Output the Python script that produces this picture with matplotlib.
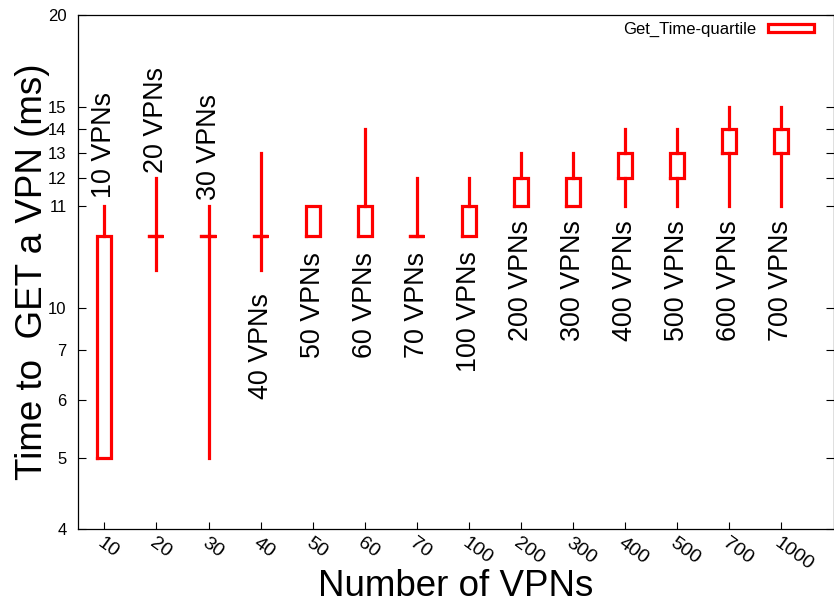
import matplotlib
matplotlib.use("Agg")
import matplotlib.pyplot as plt
from matplotlib.ticker import NullLocator
from matplotlib.patches import Patch

plt.rcParams['font.family'] = ['Liberation Sans', 'DejaVu Sans']

# ---- data ----
x_tick_labels = ['10', '20', '30', '40', '50', '60', '70', '100', '200', '300', '400', '500', '700', '1000']
vpn_labels = ['10 VPNs', '20 VPNs', '30 VPNs', '40 VPNs', '50 VPNs', '60 VPNs', '70 VPNs', '100 VPNs',
              '200 VPNs', '300 VPNs', '400 VPNs', '500 VPNs', '600 VPNs', '700 VPNs']
whisker_low = [5, 9, 5, 9, 10, 10, 10, 10, 11, 11, 11, 11, 11, 11]
box_low = [5, 10, 10, 10, 10, 10, 10, 10, 11, 11, 12, 12, 13, 13]
box_high = [10, 10, 10, 10, 11, 11, 10, 11, 12, 12, 13, 13, 14, 14]
whisker_high = [11, 12, 11, 13, 11, 14, 12, 12, 13, 13, 14, 14, 15, 15]
label_y = [11.28, 12.21, 11.21, 6.01, 6.84, 6.84, 6.84, 6.55, 7.2, 7.2, 7.2, 7.2, 7.2, 7.2]

y_tick_values = [4, 5, 6, 7, 8, 11, 12, 13, 14, 15, 20]
y_tick_labels = ['4', '5', '6', '7', '10', '11', '12', '13', '14', '15', '20']

positions = list(range(1, len(x_tick_labels) + 1))

fig = plt.figure(figsize=(8.34, 6.10), dpi=100)
ax = fig.add_axes([78.3 / 834, 1 - 529.3 / 610, (833.5 - 78.3) / 834, (529.3 - 15) / 610])

stats = [dict(whislo=wl, q1=bl, med=bl, q3=bh, whishi=wh)
         for wl, bl, bh, wh in zip(whisker_low, box_low, box_high, whisker_high)]
red = '#ff0000'
lw = 2.3
ax.bxp(stats, positions=positions, widths=0.27, showcaps=False, showfliers=False,
       boxprops=dict(color=red, lw=lw, solid_joinstyle='miter'),
       whiskerprops=dict(color=red, lw=lw),
       medianprops=dict(visible=False), manage_ticks=False)

for xp, yv, txt in zip(positions, label_y, vpn_labels):
    ax.text(xp, yv, txt, rotation=90, ha='center', va='bottom', fontsize=19.4)

ax.set_yscale('log')
ax.set_ylim(4, 20)
ax.set_xlim(0.5, 15)
ax.set_yticks(y_tick_values)
ax.set_yticklabels(y_tick_labels)
ax.yaxis.set_minor_locator(NullLocator())
ax.set_xticks(positions)
ax.set_xticklabels(x_tick_labels, rotation=-36, ha='left', va='top', rotation_mode='anchor')

ax.tick_params(axis='y', direction='in', length=5.8, width=0.8, left=True, right=True,
               labelsize=12, pad=8.4)
ax.tick_params(axis='x', direction='in', length=5.0, width=0.8, top=False,
               labelsize=14, pad=3.5)
for sp in ax.spines.values():
    sp.set_linewidth(0.9)

ax.set_ylabel('Time to  GET a VPN (ms)', fontsize=26.5)
ax.yaxis.set_label_coords(-0.037, 0.5)
ax.set_xlabel('Number of VPNs', fontsize=26.5)
ax.xaxis.set_label_coords(0.5, -0.077)

handle = Patch(facecolor='none', edgecolor=red, lw=lw, joinstyle='miter')
ax.legend([handle], ['Get_Time-quartile'], loc='upper right', frameon=False, markerfirst=False,
          fontsize=12, handlelength=2.8, handleheight=0.36, handletextpad=0.65,
          borderpad=0, borderaxespad=0,
          bbox_to_anchor=(814.2 / 834, 1 - 21.5 / 610), bbox_transform=fig.transFigure)

fig.savefig('out.png', dpi=100)
